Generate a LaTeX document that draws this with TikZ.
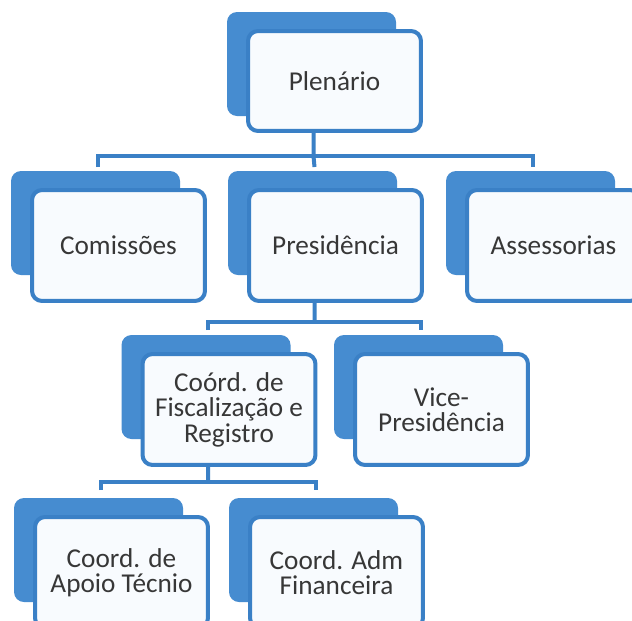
\documentclass[tikz,border=0pt]{standalone}
\usepackage{fontspec}
\setmainfont{Carlito}
\usetikzlibrary{backgrounds}
\definecolor{boxblue}{RGB}{58,128,198}
\definecolor{backblue}{RGB}{70,140,208}
\definecolor{boxfill}{RGB}{248,251,254}
\definecolor{txtgray}{RGB}{55,55,55}

\begin{document}
\begin{tikzpicture}[x=0.02cm,y=-0.02cm,
	unit/.style={draw=boxblue, line width=0.08cm, fill=boxfill, rounded corners=0.2cm,
		minimum width=3.46cm, minimum height=2.22cm, inner sep=0pt, align=center,
		text=txtgray, font=\fontsize{15.5}{14.5}\selectfont},
	link/.style={draw=boxblue, line width=0.08cm}]
	% Рамка
	\useasboundingbox (0,0) rectangle (632,621);
	\clip (0,0) rectangle (632,621);
	% Блоки
	\node[unit, minimum height=2.0cm] (plen) at (334.5,81) {Plenário};
	\node[unit] (com) at (118.5,245.5) {Comissões};
	\node[unit] (pres) at (335.5,245.5) {Presidência};
	\node[unit] (ass) at (553.5,245.5) {Assessorias};
	\node[unit] (fisc) at (229,409.5) {Coórd. de\\Fiscalização e\\Registro};
	\node[unit] (vice) at (441.5,409.5) {Vice-\\Presidência};
	\node[unit] (apoio) at (121.5,572.5) {Coord. de\\Apoio Técnio};
	\node[unit] (adm) at (336.5,572.5) {Coord. Adm\\Financeira};
	% Задние блоки
	\begin{scope}[on background layer]
		\fill[white] (0,0) rectangle (632,621);
		\foreach \n in {plen,com,pres,ass,fisc,vice,apoio,adm}
			\fill[backblue, rounded corners=0.2cm] ([shift={(-19,-17)}]\n.north west) rectangle ++(169,104);
	\end{scope}
	% Связи
	\coordinate (j1) at ([shift={(-21,23)}]plen.south);
	\draw[link] ([xshift=-0.42cm]plen.south) -- (j1);
	\draw[link] ([shift={(-21,-21)}]com.north) |- (j1) -| ([shift={(-21,-21)}]ass.north);
	\draw[link] (j1) -- ([shift={(-21,-21)}]pres.north);
	\coordinate (j2) at ([shift={(-21,19)}]pres.south);
	\draw[link] ([xshift=-0.42cm]pres.south) -- (j2);
	\draw[link] ([shift={(-21,-22)}]fisc.north) |- (j2) -| ([shift={(-21,-22)}]vice.north);
	\coordinate (j3) at ([shift={(-21,15)}]fisc.south);
	\draw[link] ([xshift=-0.42cm]fisc.south) -- (j3);
	\draw[link] ([shift={(-21,-25)}]apoio.north) |- (j3) -| ([shift={(-21,-25)}]adm.north);
\end{tikzpicture}
\end{document}
